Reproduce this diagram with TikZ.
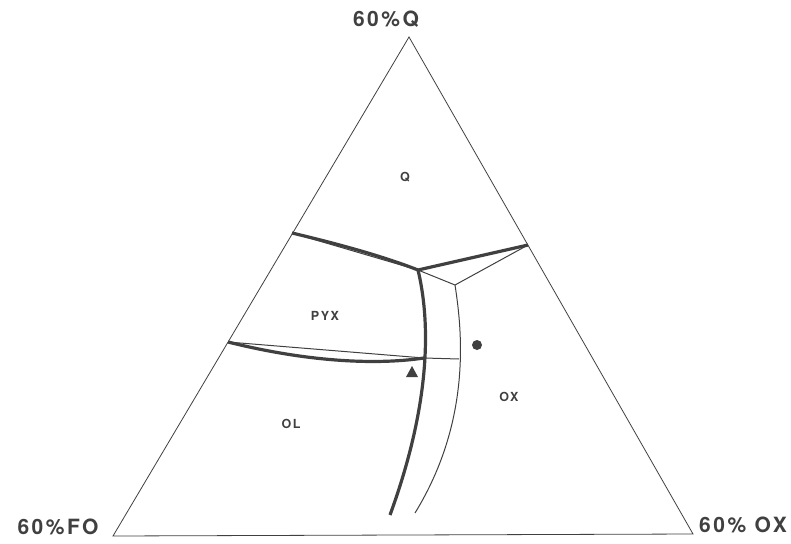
\documentclass[tikz,border=0pt]{standalone}
\usepackage{fontspec}
\setmainfont{TeX Gyre Heros}
\newfontfamily\widefont[LetterSpace=12]{TeX Gyre Heros}
\begin{document}
\begin{tikzpicture}[x=1pt,y=-1pt,edge/.style={line width=0.8pt, black!75},bound/.style={line width=3.2pt, black!75},thin/.style={line width=1pt, black!75},corner/.style={font=\widefont\bfseries\fontsize{21}{21}\selectfont, text=black!75, inner sep=0pt},field/.style={font=\widefont\bfseries\fontsize{12.5}{12.5}\selectfont, text=black!75, inner sep=0pt}]
\useasboundingbox (0,0) rectangle (791,543);
% corners of the triangle
\coordinate (T) at (409,37); \coordinate (L) at (113,536); \coordinate (R) at (693,534);
\draw[edge] (L) -- (T) -- (R) -- cycle;
\node[corner] (qlab) at (386,19) {60\%Q};
\node[corner] (folab) at (58,527) {60\%FO};
\node[corner] (oxlab) at (743,525) {60\% OX};
% boundary points
\coordinate (A) at (292,233); \coordinate (B) at (528,245); \coordinate (C) at (228,342);
\coordinate (J) at (418,270); \coordinate (K) at (455,285);
\coordinate (M) at (424,358); \coordinate (N) at (459,359);
\coordinate (E) at (390,515); \coordinate (F) at (415,513);
% cotectic lines
\draw[bound] (A) .. controls (330,242) and (380,255) .. (J);
\draw[thin] (A) -- (J);
\draw[bound] (J) -- (B);
\draw[thin] (J) -- (K) -- (B);
\draw[bound] (J) .. controls (430,320) and (432,400) .. (E);
\draw[thin] (K) .. controls (462,330) and (472,420) .. (F);
\draw[thin] (M) -- (N);
\draw[bound] (C) .. controls (300,360) and (370,366) .. (M);
\draw[thin] (C) -- (M);
% fields
\node[field] (q) at (405,177) {Q};
\node[field] (pyx) at (325,316) {PYX};
\node[field] (ol) at (291,424) {OL};
\node[field] (ox) at (509,397) {OX};
% sample points
\fill[black!75] (406,377) -- (418,377) -- (412,366) -- cycle;
\fill[black!75] (477,345) circle (5);
\end{tikzpicture}
\end{document}
